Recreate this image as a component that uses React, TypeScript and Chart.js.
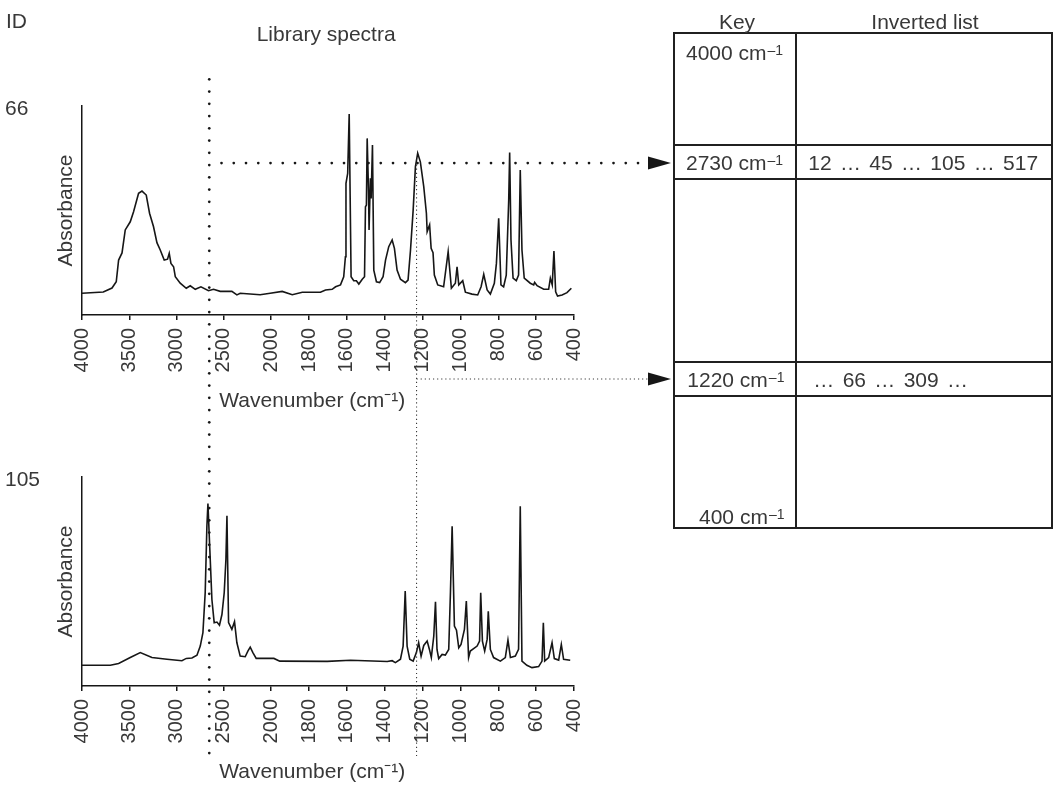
import React, { useEffect, useRef } from "react";
import { Chart, registerables } from "chart.js";

Chart.register(...registerables);

const FONT = "'Liberation Sans', Arial, Helvetica, sans-serif";
const TEXT = "#383838";
const INK = "#161616";

// Axis tick labels (cm-1). The axis scale doubles below 2000 cm-1.
const TICK_WAVENUMBERS = [4000, 3500, 3000, 2500, 2000, 1800, 1600, 1400, 1200, 1000, 800, 600, 400];

// Library spectrum ID 66
const SPEC66_WN = [4000, 3775, 3683, 3638, 3613, 3577, 3543, 3490, 3455, 3402, 3366, 3321, 3286, 3244, 3208, 3173, 3131, 3096, 3078, 3060, 3032, 3014, 2962, 2898, 2856, 2803, 2743, 2663, 2610, 2539, 2416, 2363, 2328, 2117, 2011, 1942, 1889, 1836, 1740, 1713, 1678, 1660, 1634, 1617, 1608, 1605, 1596, 1588, 1578, 1564, 1550, 1537, 1519, 1507, 1502, 1497, 1493, 1486, 1483, 1476, 1472, 1465, 1458, 1444, 1427, 1409, 1396, 1379, 1361, 1349, 1335, 1317, 1291, 1277, 1264, 1250, 1238, 1226, 1212, 1194, 1180, 1176, 1163, 1155, 1145, 1138, 1120, 1089, 1065, 1048, 1027, 1018, 1009, 988, 974, 939, 909, 891, 877, 859, 842, 821, 810, 798, 786, 772, 758, 745, 740, 733, 722, 705, 693, 684, 675, 663, 631, 613, 608, 595, 560, 534, 525, 515, 506, 497, 487, 463, 437, 414];
const SPEC66_ABS = [0.104, 0.110, 0.129, 0.159, 0.263, 0.297, 0.407, 0.446, 0.494, 0.582, 0.593, 0.574, 0.487, 0.422, 0.346, 0.311, 0.263, 0.267, 0.295, 0.247, 0.231, 0.183, 0.152, 0.128, 0.140, 0.123, 0.135, 0.116, 0.123, 0.113, 0.113, 0.096, 0.104, 0.097, 0.104, 0.113, 0.097, 0.109, 0.109, 0.120, 0.123, 0.135, 0.144, 0.183, 0.279, 0.630, 0.678, 0.962, 0.183, 0.164, 0.164, 0.148, 0.171, 0.183, 0.518, 0.526, 0.845, 0.598, 0.407, 0.654, 0.558, 0.813, 0.215, 0.159, 0.155, 0.183, 0.263, 0.327, 0.359, 0.319, 0.215, 0.171, 0.155, 0.167, 0.311, 0.502, 0.710, 0.774, 0.733, 0.614, 0.487, 0.399, 0.431, 0.319, 0.298, 0.191, 0.144, 0.135, 0.303, 0.128, 0.152, 0.231, 0.144, 0.164, 0.109, 0.100, 0.096, 0.135, 0.195, 0.120, 0.100, 0.152, 0.247, 0.463, 0.144, 0.135, 0.191, 0.550, 0.778, 0.359, 0.176, 0.164, 0.191, 0.694, 0.311, 0.176, 0.152, 0.144, 0.156, 0.140, 0.123, 0.123, 0.176, 0.144, 0.306, 0.111, 0.091, 0.096, 0.107, 0.128];

// Library spectrum ID 105
const SPEC105_WN = [4000, 3701, 3613, 3490, 3384, 3261, 3102, 2944, 2898, 2838, 2785, 2750, 2722, 2698, 2680, 2669, 2652, 2627, 2603, 2574, 2547, 2521, 2497, 2479, 2468, 2451, 2416, 2388, 2363, 2328, 2275, 2247, 2222, 2194, 2159, 1986, 1955, 1704, 1581, 1387, 1361, 1344, 1317, 1303, 1292, 1282, 1268, 1250, 1233, 1221, 1208, 1194, 1176, 1164, 1154, 1141, 1132, 1124, 1115, 1097, 1080, 1062, 1053, 1044, 1032, 1021, 1009, 997, 979, 969, 957, 948, 912, 899, 893, 884, 872, 859, 853, 842, 825, 789, 763, 749, 736, 710, 693, 684, 675, 649, 622, 587, 569, 562, 555, 534, 516, 504, 481, 467, 455, 420];
const SPEC105_ABS = [0.099, 0.099, 0.108, 0.136, 0.160, 0.136, 0.128, 0.121, 0.132, 0.134, 0.147, 0.191, 0.255, 0.446, 0.764, 0.873, 0.685, 0.414, 0.303, 0.306, 0.291, 0.342, 0.446, 0.605, 0.815, 0.303, 0.271, 0.308, 0.207, 0.143, 0.140, 0.167, 0.186, 0.160, 0.132, 0.132, 0.119, 0.118, 0.123, 0.117, 0.121, 0.112, 0.128, 0.191, 0.454, 0.191, 0.128, 0.119, 0.160, 0.207, 0.143, 0.194, 0.215, 0.175, 0.136, 0.239, 0.403, 0.175, 0.131, 0.151, 0.148, 0.175, 0.446, 0.764, 0.287, 0.267, 0.183, 0.199, 0.271, 0.406, 0.136, 0.167, 0.191, 0.215, 0.446, 0.215, 0.167, 0.223, 0.358, 0.175, 0.136, 0.119, 0.136, 0.220, 0.136, 0.143, 0.175, 0.860, 0.119, 0.099, 0.088, 0.093, 0.119, 0.303, 0.119, 0.136, 0.207, 0.131, 0.124, 0.199, 0.128, 0.123];

// Key lines as drawn on the wavenumber axis, and arrow level (absorbance) in spectrum 66
const KEY_STRONG_WN = 2655;
const KEY_WEAK_WN = 1232;
const KEY_STRONG_LEVEL = 0.727;

// Inverted-list table content
const TABLE_KEYS = ["4000", "2730", "1220", "400"];
const TABLE_LISTS = ["12 \u2026 45 \u2026 105 \u2026 517", "\u2026 66 \u2026 309 \u2026"];

// axis transform: 1x scale above 2000 cm-1, 2x scale below
const toU = (w: number) => (w >= 2000 ? 4000 - w : 2000 + 2 * (2000 - w));
const fromU = (u: number) => (u <= 2000 ? 4000 - u : 2000 - (u - 2000) / 2);

function makeConfig(wn: number[], abs: number[]): any {
  return {
    type: "line",
    data: {
      datasets: [
        {
          data: wn.map((w, i) => ({ x: toU(w), y: abs[i] })),
          borderColor: INK,
          borderWidth: 1.6,
          pointRadius: 0,
          tension: 0,
          fill: false,
        },
      ],
    },
    options: {
      animation: false,
      responsive: false,
      devicePixelRatio: 1,
      events: [],
      plugins: { legend: { display: false }, tooltip: { enabled: false } },
      layout: { padding: { top: 106, right: 26, left: 0, bottom: 0 } },
      scales: {
        x: {
          type: "linear",
          min: 0,
          max: 5200,
          afterBuildTicks: (s: any) => {
            s.ticks = TICK_WAVENUMBERS.map((w) => ({ value: toU(w) }));
          },
          afterFit: (s: any) => {
            s.height = 99;
            s.paddingLeft = 0;
            s.paddingRight = 0;
          },
          ticks: {
            autoSkip: false,
            minRotation: 90,
            maxRotation: 90,
            padding: 8,
            color: TEXT,
            font: { family: FONT, size: 20 },
            callback: (v: number) => String(Math.round(fromU(v))),
          },
          grid: {
            display: true,
            drawOnChartArea: false,
            drawTicks: true,
            tickLength: 5,
            color: INK,
            lineWidth: 1.5,
          },
          border: { display: true, color: INK, width: 1.5 },
          title: {
            display: true,
            text: "Wavenumber (cm\u207B\u00B9)\u2003\u2002",
            color: TEXT,
            font: { family: FONT, size: 21 },
            padding: 0,
          },
        },
        y: {
          type: "linear",
          min: 0,
          max: 1,
          afterFit: (s: any) => {
            s.width = 82;
          },
          ticks: { display: false },
          grid: { display: false },
          border: { display: true, color: INK, width: 1.5 },
          title: {
            display: true,
            text: "Absorbance",
            color: TEXT,
            font: { family: FONT, size: 21 },
            padding: { top: 54, bottom: 0 },
          },
        },
      },
    },
  };
}

const BOTTOM_OFFSET = 371;

function drawOverlay(cv: HTMLCanvasElement, top: Chart, bottom: Chart) {
  const ctx = cv.getContext("2d");
  if (!ctx) return;
  ctx.clearRect(0, 0, cv.width, cv.height);
  const xs = top.scales.x;
  const xStrong = xs.getPixelForValue(toU(KEY_STRONG_WN));
  const xWeak = xs.getPixelForValue(toU(KEY_WEAK_WN));
  const yStrong = top.scales.y.getPixelForValue(KEY_STRONG_LEVEL);
  const yWeakPeak = top.scales.y.getPixelForValue(0.72);
  const yWeak = top.scales.x.bottom - 35; // between tick labels and title
  const yEnd = bottom.scales.x.bottom + BOTTOM_OFFSET - 29;
  const arrowStart = 648;
  const arrowTip = 671;

  // thick dotted lines (round dots)
  ctx.fillStyle = INK;
  const sp = 12.25;
  const dot = (x: number, y: number) => {
    ctx.beginPath();
    ctx.arc(x, y, 1.35, 0, Math.PI * 2);
    ctx.fill();
  };
  for (let y = yStrong - 7 * sp + 2; y <= yEnd; y += sp) dot(xStrong, y);
  for (let x = xStrong + sp; x < arrowStart - 6; x += sp) dot(x, yStrong);

  // thin dotted lines
  ctx.save();
  ctx.strokeStyle = "#3a3a3a";
  ctx.lineWidth = 1.1;
  ctx.setLineDash([1.2, 2.9]);
  ctx.beginPath();
  ctx.moveTo(xWeak, yWeakPeak);
  ctx.lineTo(xWeak, yEnd);
  ctx.moveTo(xWeak, yWeak);
  ctx.lineTo(arrowStart, yWeak);
  ctx.stroke();
  ctx.restore();

  // arrowheads
  const arrow = (y: number) => {
    ctx.beginPath();
    ctx.moveTo(arrowStart, y - 6.5);
    ctx.lineTo(arrowTip, y);
    ctx.lineTo(arrowStart, y + 6.5);
    ctx.closePath();
    ctx.fill();
  };
  arrow(yStrong);
  arrow(yWeak);

  // table grid
  ctx.strokeStyle = "#202020";
  ctx.lineWidth = 2;
  const L = 674, M = 796, R = 1052, T = 33, B = 528;
  ctx.strokeRect(L, T, R - L, B - T);
  ctx.beginPath();
  ctx.moveTo(M, T);
  ctx.lineTo(M, B);
  for (const y of [145, 179, 362, 396]) {
    ctx.moveTo(L, y);
    ctx.lineTo(R, y);
  }
  ctx.stroke();
}

const Txt = (p: { x: number; base: number; center?: boolean; ws?: number; children: any }) => (
  <div
    style={{
      position: "absolute",
      left: p.x,
      top: p.base - 17.8,
      fontSize: 21,
      lineHeight: "21px",
      whiteSpace: "nowrap",
      transform: p.center ? "translateX(-50%)" : undefined,
      wordSpacing: p.ws ? p.ws : undefined,
    }}
  >
    {p.children}
  </div>
);

const Sup = () => (
  <span style={{ fontSize: 14, position: "relative", top: -5, marginLeft: 1 }}>{"\u20131"}</span>
);

export default function App() {
  const topRef = useRef<HTMLCanvasElement>(null);
  const botRef = useRef<HTMLCanvasElement>(null);
  const ovRef = useRef<HTMLCanvasElement>(null);

  useEffect(() => {
    const c1 = new Chart(topRef.current as HTMLCanvasElement, makeConfig(SPEC66_WN, SPEC66_ABS));
    const c2 = new Chart(botRef.current as HTMLCanvasElement, makeConfig(SPEC105_WN, SPEC105_ABS));
    if (ovRef.current) drawOverlay(ovRef.current, c1, c2);
    return () => {
      c1.destroy();
      c2.destroy();
    };
  }, []);

  return (
    <div
      style={{
        position: "absolute",
        left: 0,
        top: 0,
        width: 1054,
        height: 786,
        overflow: "hidden",
        background: "#fff",
        fontFamily: FONT,
        color: TEXT,
      }}
    >
      <canvas ref={topRef} width={600} height={414} style={{ position: "absolute", left: 0, top: 0 }} />
      <canvas ref={botRef} width={600} height={414} style={{ position: "absolute", left: 0, top: BOTTOM_OFFSET }} />
      <canvas
        ref={ovRef}
        width={1054}
        height={786}
        style={{ position: "absolute", left: 0, top: 0, pointerEvents: "none" }}
      />
      <Txt x={6} base={27.3}>ID</Txt>
      <Txt x={256.7} base={40.7}>Library spectra</Txt>
      <Txt x={5} base={115}>66</Txt>
      <Txt x={5} base={486}>105</Txt>
      <Txt x={737} base={28.3} center>Key</Txt>
      <Txt x={925} base={28.3} center>Inverted list</Txt>
      <Txt x={686} base={60}>{TABLE_KEYS[0]} cm<Sup /></Txt>
      <Txt x={686} base={170}>{TABLE_KEYS[1]} cm<Sup /></Txt>
      <Txt x={808.3} base={170} ws={2.5}>{TABLE_LISTS[0]}</Txt>
      <Txt x={687.3} base={386.7}>{TABLE_KEYS[2]} cm<Sup /></Txt>
      <Txt x={813.3} base={386.7} ws={2.5}>{TABLE_LISTS[1]}</Txt>
      <Txt x={699} base={523.3}>{TABLE_KEYS[3]} cm<Sup /></Txt>
    </div>
  );
}
